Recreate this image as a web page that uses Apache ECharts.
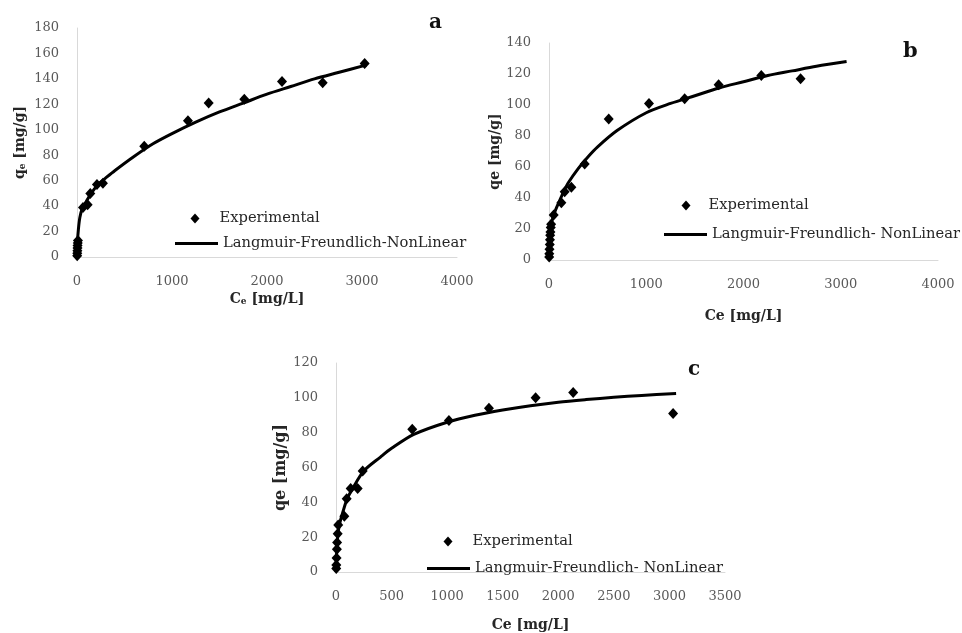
<!DOCTYPE html>
<html>
<head>
<meta charset="utf-8">
<script src="https://cdn.jsdelivr.net/npm/echarts@6/dist/echarts.min.js"></script>
<style>
    html, body {margin: 0; padding: 0; background: #fff;}
    #chart {width: 962px; height: 633px;}
</style>
</head>
<body>
<div id="chart"></div>
<script>
// panel a - experimental points and fitted curve
const expACe = [2, 3, 4, 5, 6, 8, 10, 63, 112, 140, 210, 273, 708, 1168, 1386, 1761, 2158, 2586, 3028];
const expAQe = [1, 3, 5, 7, 9, 11, 13, 39, 41, 50, 57, 58, 87, 107, 121, 124, 138, 137, 152];
const fitACe = [0, 5, 15, 30, 55, 100, 150, 220, 300, 400, 600, 800, 1000, 1250, 1500, 1750, 2000, 2250, 2500, 2750, 3050];
const fitAQe = [0, 12, 22, 31, 38, 44, 50, 57, 62, 68, 79, 89, 97, 106, 114, 121, 128, 134, 140, 145, 151];

// panel b
const expBCe = [2, 3, 5, 8, 10, 12, 15, 18, 22, 48, 127, 161, 230, 367, 614, 1028, 1395, 1744, 2183, 2587];
const expBQe = [2, 4, 7, 10, 13, 16, 18, 21, 23, 29, 37, 44, 47, 62, 91, 101, 104, 113, 119, 117];
const fitBCe = [0, 5, 15, 30, 60, 100, 150, 200, 300, 400, 500, 700, 1000, 1250, 1500, 1750, 2000, 2250, 2500, 2750, 3060];
const fitBQe = [0, 10, 18, 25, 31, 37, 44, 50, 59, 66.5, 73, 83.5, 95, 101, 106, 111, 115, 119, 122, 125, 128];

// panel c
const expCCe = [2, 3, 5, 8, 10, 15, 20, 75, 96, 132, 195, 240, 686, 1016, 1376, 1796, 2134, 3033];
const expCQe = [2, 4, 8, 13, 17, 22, 27, 32, 42, 48, 48, 58, 82, 87, 94, 100, 103, 91];
const fitCCe = [0, 5, 15, 30, 60, 100, 150, 250, 400, 500, 700, 1000, 1250, 1500, 1750, 2000, 2250, 2500, 2750, 3060];
const fitCQe = [0, 10, 20, 27, 34, 42, 48, 58, 66, 71, 79, 86, 90, 93, 95.5, 97.5, 99, 100.3, 101.4, 102.5];

const FONT = 'DejaVu Serif';
const pairs = (xs, ys) => xs.map((x, i) => [x, ys[i]]);

let myChart = echarts.init(document.getElementById('chart'));

const subRich = {
    s: {fontFamily: FONT, fontSize: 9, fontWeight: 'bold', color: '#262626', verticalAlign: 'bottom'}
};

function xAxisFor(idx, max, interval, name, gap) {
    return {
        gridIndex: idx, type: 'value', min: 0, max: max, interval: interval,
        name: name, nameLocation: 'middle', nameGap: gap,
        nameTextStyle: {fontFamily: FONT, fontSize: 14, fontWeight: 'bold', color: '#262626', rich: subRich},
        axisLine: {lineStyle: {color: '#d9d9d9', width: 1}},
        axisTick: {show: false},
        splitLine: {show: false},
        axisLabel: {fontFamily: FONT, fontSize: 13, color: '#595959', margin: 18, formatter: v => String(v)}
    };
}

function yAxisFor(idx, max, name, gap, size) {
    return {
        gridIndex: idx, type: 'value', min: 0, max: max, interval: 20,
        name: name, nameLocation: 'middle', nameGap: gap,
        nameTextStyle: {fontFamily: FONT, fontSize: size, fontWeight: 'bold', color: '#262626', rich: subRich},
        axisLine: {show: true, lineStyle: {color: '#d9d9d9', width: 1}},
        axisTick: {show: false},
        splitLine: {show: false},
        axisLabel: {fontFamily: FONT, fontSize: 13, color: '#595959', margin: 18, formatter: v => String(v)}
    };
}

// one legend per entry so the marker and the line sample can have their own sizes
function legendItem(name, left, top, w, h, icon, padLeft) {
    return {
        left: left, top: top, padding: 0,
        itemWidth: w, itemHeight: h, icon: icon,
        selectedMode: false,
        itemStyle: {opacity: 1},
        textStyle: {fontFamily: FONT, fontSize: 14.7, color: '#262626', padding: [0, 0, 0, padLeft]},
        data: [name]
    };
}

function scatterSeries(name, idx, data) {
    return {
        name: name, type: 'scatter', xAxisIndex: idx, yAxisIndex: idx,
        symbol: 'diamond', symbolSize: [10, 11],
        itemStyle: {color: '#000', opacity: 1}, z: 3,
        data: data
    };
}

function lineSeries(name, idx, data) {
    return {
        name: name, type: 'line', xAxisIndex: idx, yAxisIndex: idx,
        smooth: 0.3, showSymbol: false, symbol: 'none',
        lineStyle: {color: '#000', width: 3},
        itemStyle: {color: '#000'},
        data: data
    };
}

const lfA = 'Langmuir-Freundlich-NonLinear';
const lfB = 'Langmuir-Freundlich- NonLinear';

let option = {
    backgroundColor: '#fff',
    animation: false,
    grid: [
        {left: 77, top: 28, width: 380, height: 229},
        {left: 549, top: 43, width: 389, height: 217},
        {left: 336, top: 363, width: 389, height: 212}
    ],
    xAxis: [
        xAxisFor(0, 4000, 1000, 'C{s|e} [mg/L]', 35),
        xAxisFor(1, 4000, 1000, 'Ce [mg/L]', 49),
        xAxisFor(2, 3500, 500, 'Ce [mg/L]', 46)
    ],
    yAxis: [
        yAxisFor(0, 180, 'q{s|e} [mg/g]', 50, 14),
        yAxisFor(1, 140, 'qe [mg/g]', 44, 14),
        yAxisFor(2, 120, 'qe [mg/g]', 44, 16)
    ],
    legend: [
        legendItem('Experimental', 190.5, 211, 9, 10, 'diamond', 15),
        legendItem(lfA, 175, 236, 43, 3, 'rect', 0),
        legendItem('Experimental', 681.5, 198, 9, 10, 'diamond', 13),
        legendItem(lfB, 664, 227, 43, 3, 'rect', 0),
        legendItem('Experimental', 443.5, 534, 9, 10, 'diamond', 15),
        legendItem(lfB, 427, 561, 43, 3, 'rect', 0)
    ],
    graphic: [
        {type: 'text', left: 429, top: 13, style: {text: 'a', fontFamily: FONT, fontSize: 20, fontWeight: 'bold', fill: '#111'}},
        {type: 'text', left: 903, top: 41, style: {text: 'b', fontFamily: FONT, fontSize: 21, fontWeight: 'bold', fill: '#111'}},
        {type: 'text', left: 688, top: 360, style: {text: 'c', fontFamily: FONT, fontSize: 20, fontWeight: 'bold', fill: '#111'}}
    ],
    series: [
        lineSeries(lfA, 0, pairs(fitACe, fitAQe)),
        scatterSeries('Experimental', 0, pairs(expACe, expAQe)),
        lineSeries(lfB, 1, pairs(fitBCe, fitBQe)),
        scatterSeries('Experimental', 1, pairs(expBCe, expBQe)),
        lineSeries(lfB, 2, pairs(fitCCe, fitCQe)),
        scatterSeries('Experimental', 2, pairs(expCCe, expCQe))
    ]
};

myChart.setOption(option);
</script>
</body>
</html>
